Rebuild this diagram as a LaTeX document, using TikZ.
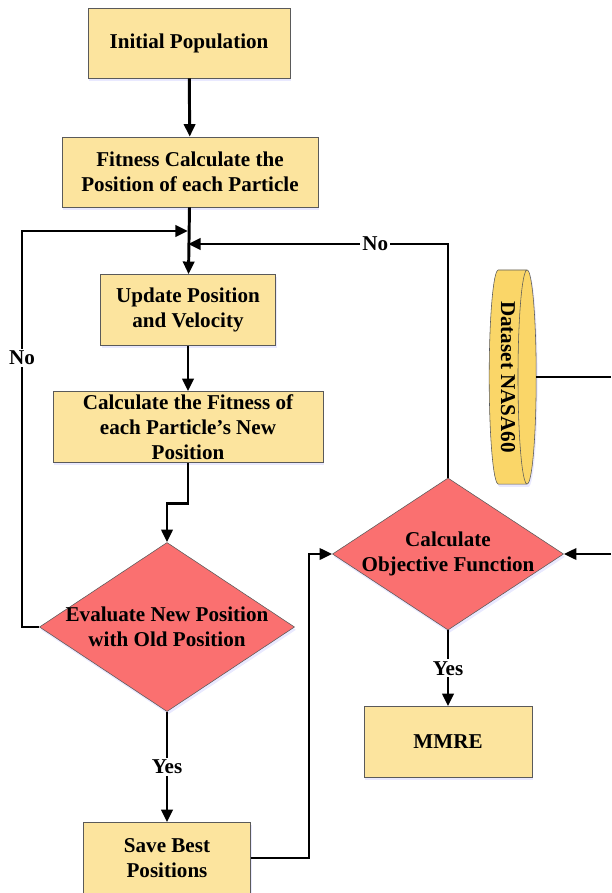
\documentclass[tikz,border=0pt]{standalone}
\usepackage{fontspec}
\setmainfont{Liberation Serif}
\usepackage{graphicx}
\usetikzlibrary{shapes.geometric,arrows.meta,shadows}

\definecolor{boxfill}{RGB}{252,228,158}
\definecolor{decfill}{RGB}{250,112,112}
\definecolor{dbfill}{RGB}{250,214,104}
\definecolor{edgegray}{RGB}{90,90,90}

\tikzset{
    >={Triangle[length=9pt,width=8pt]},
    flow/.style={->, line width=2.1pt},
    plain/.style={line width=2.1pt},
    process/.style={rectangle, draw=edgegray, thin, fill=boxfill, align=center, inner ysep=0.5pt,
        drop shadow={shadow xshift=1pt, shadow yshift=-2pt, fill=blue!25, opacity=0.35}},
    decision/.style={diamond, draw=edgegray, thin, fill=decfill, align=center, inner sep=-2pt,
        drop shadow={shadow xshift=1pt, shadow yshift=-2pt, fill=blue!25, opacity=0.35}},
    answer/.style={fill=white, inner sep=1.5pt}
}

\begin{document}
\begin{tikzpicture}[x=0.025cm, y=-0.025cm, font=\fontsize{15}{17.7}\selectfont\bfseries]
        \useasboundingbox (0,0) rectangle (611,893);

        \node[process, minimum width=5.05cm, minimum height=1.75cm] at (189, 43)(init){Initial Population};
        \node[process, minimum width=6.4cm, minimum height=1.75cm] at (190, 172)(fit){Fitness Calculate the\\Position of each Particle};
        \node[process, minimum width=4.375cm, minimum height=1.775cm] at (188, 310)(upd){Update Position\\and Velocity};
        \node[process, minimum width=6.75cm, minimum height=1.775cm] at (188, 427)(newfit){Calculate the Fitness of\\each Particle's New\\Position};
        \node[decision, aspect=1.5, minimum width=6.375cm, minimum height=4.225cm] at (167, 627)(eval){Evaluate New Position\\with Old Position};
        \node[process, minimum width=4.175cm, minimum height=1.775cm] at (167, 858)(save){Save Best\\Positions};
        \node[decision, aspect=1.52, minimum width=5.775cm, minimum height=3.8cm] at (448, 554)(obj){Calculate\\Objective Function};
        \node[process, minimum width=4.2cm, minimum height=1.775cm] at (448, 742)(mmre){MMRE};
        \node[cylinder, draw=edgegray, thin, fill=dbfill, aspect=0.12, minimum width=5.35cm, minimum height=1.175cm, inner sep=0pt,
            drop shadow={shadow xshift=1pt, shadow yshift=-2pt, fill=blue!25, opacity=0.35}] at (508, 377)(data){\rotatebox{-90}{Dataset NASA60}};

        \coordinate (jno) at (188, 231);
        \coordinate (jre) at (188, 244);
        \coordinate (loop) at (22, 231);
        \coordinate (bend) at (309, 858);
        \coordinate (dataout) at (611, 377);
        \coordinate (objin) at (611, 554);

        \draw[flow] (init) -- (fit);
        \draw[flow] (fit) -- (upd);
        \draw[flow] (upd) -- (newfit);
        \draw[flow] (newfit.south) -- ++(0, 41) -| (eval.north);
        \draw[flow] (eval.west) -| node[answer, pos=0.84]{No} (loop) -- (jno);
        \draw[flow] (obj.north) |- node[answer, pos=0.64]{No} (jre);
        \draw[flow] (eval) -- node[answer]{Yes} (save);
        \draw[flow] (save.east) -- (bend) |- (obj.west);
        \draw[flow] (obj) -- node[answer]{Yes} (mmre);
        \draw[plain] (data.east) -- (dataout);
        \draw[flow] (objin) -- (obj.east);
    \end{tikzpicture}
\end{document}
